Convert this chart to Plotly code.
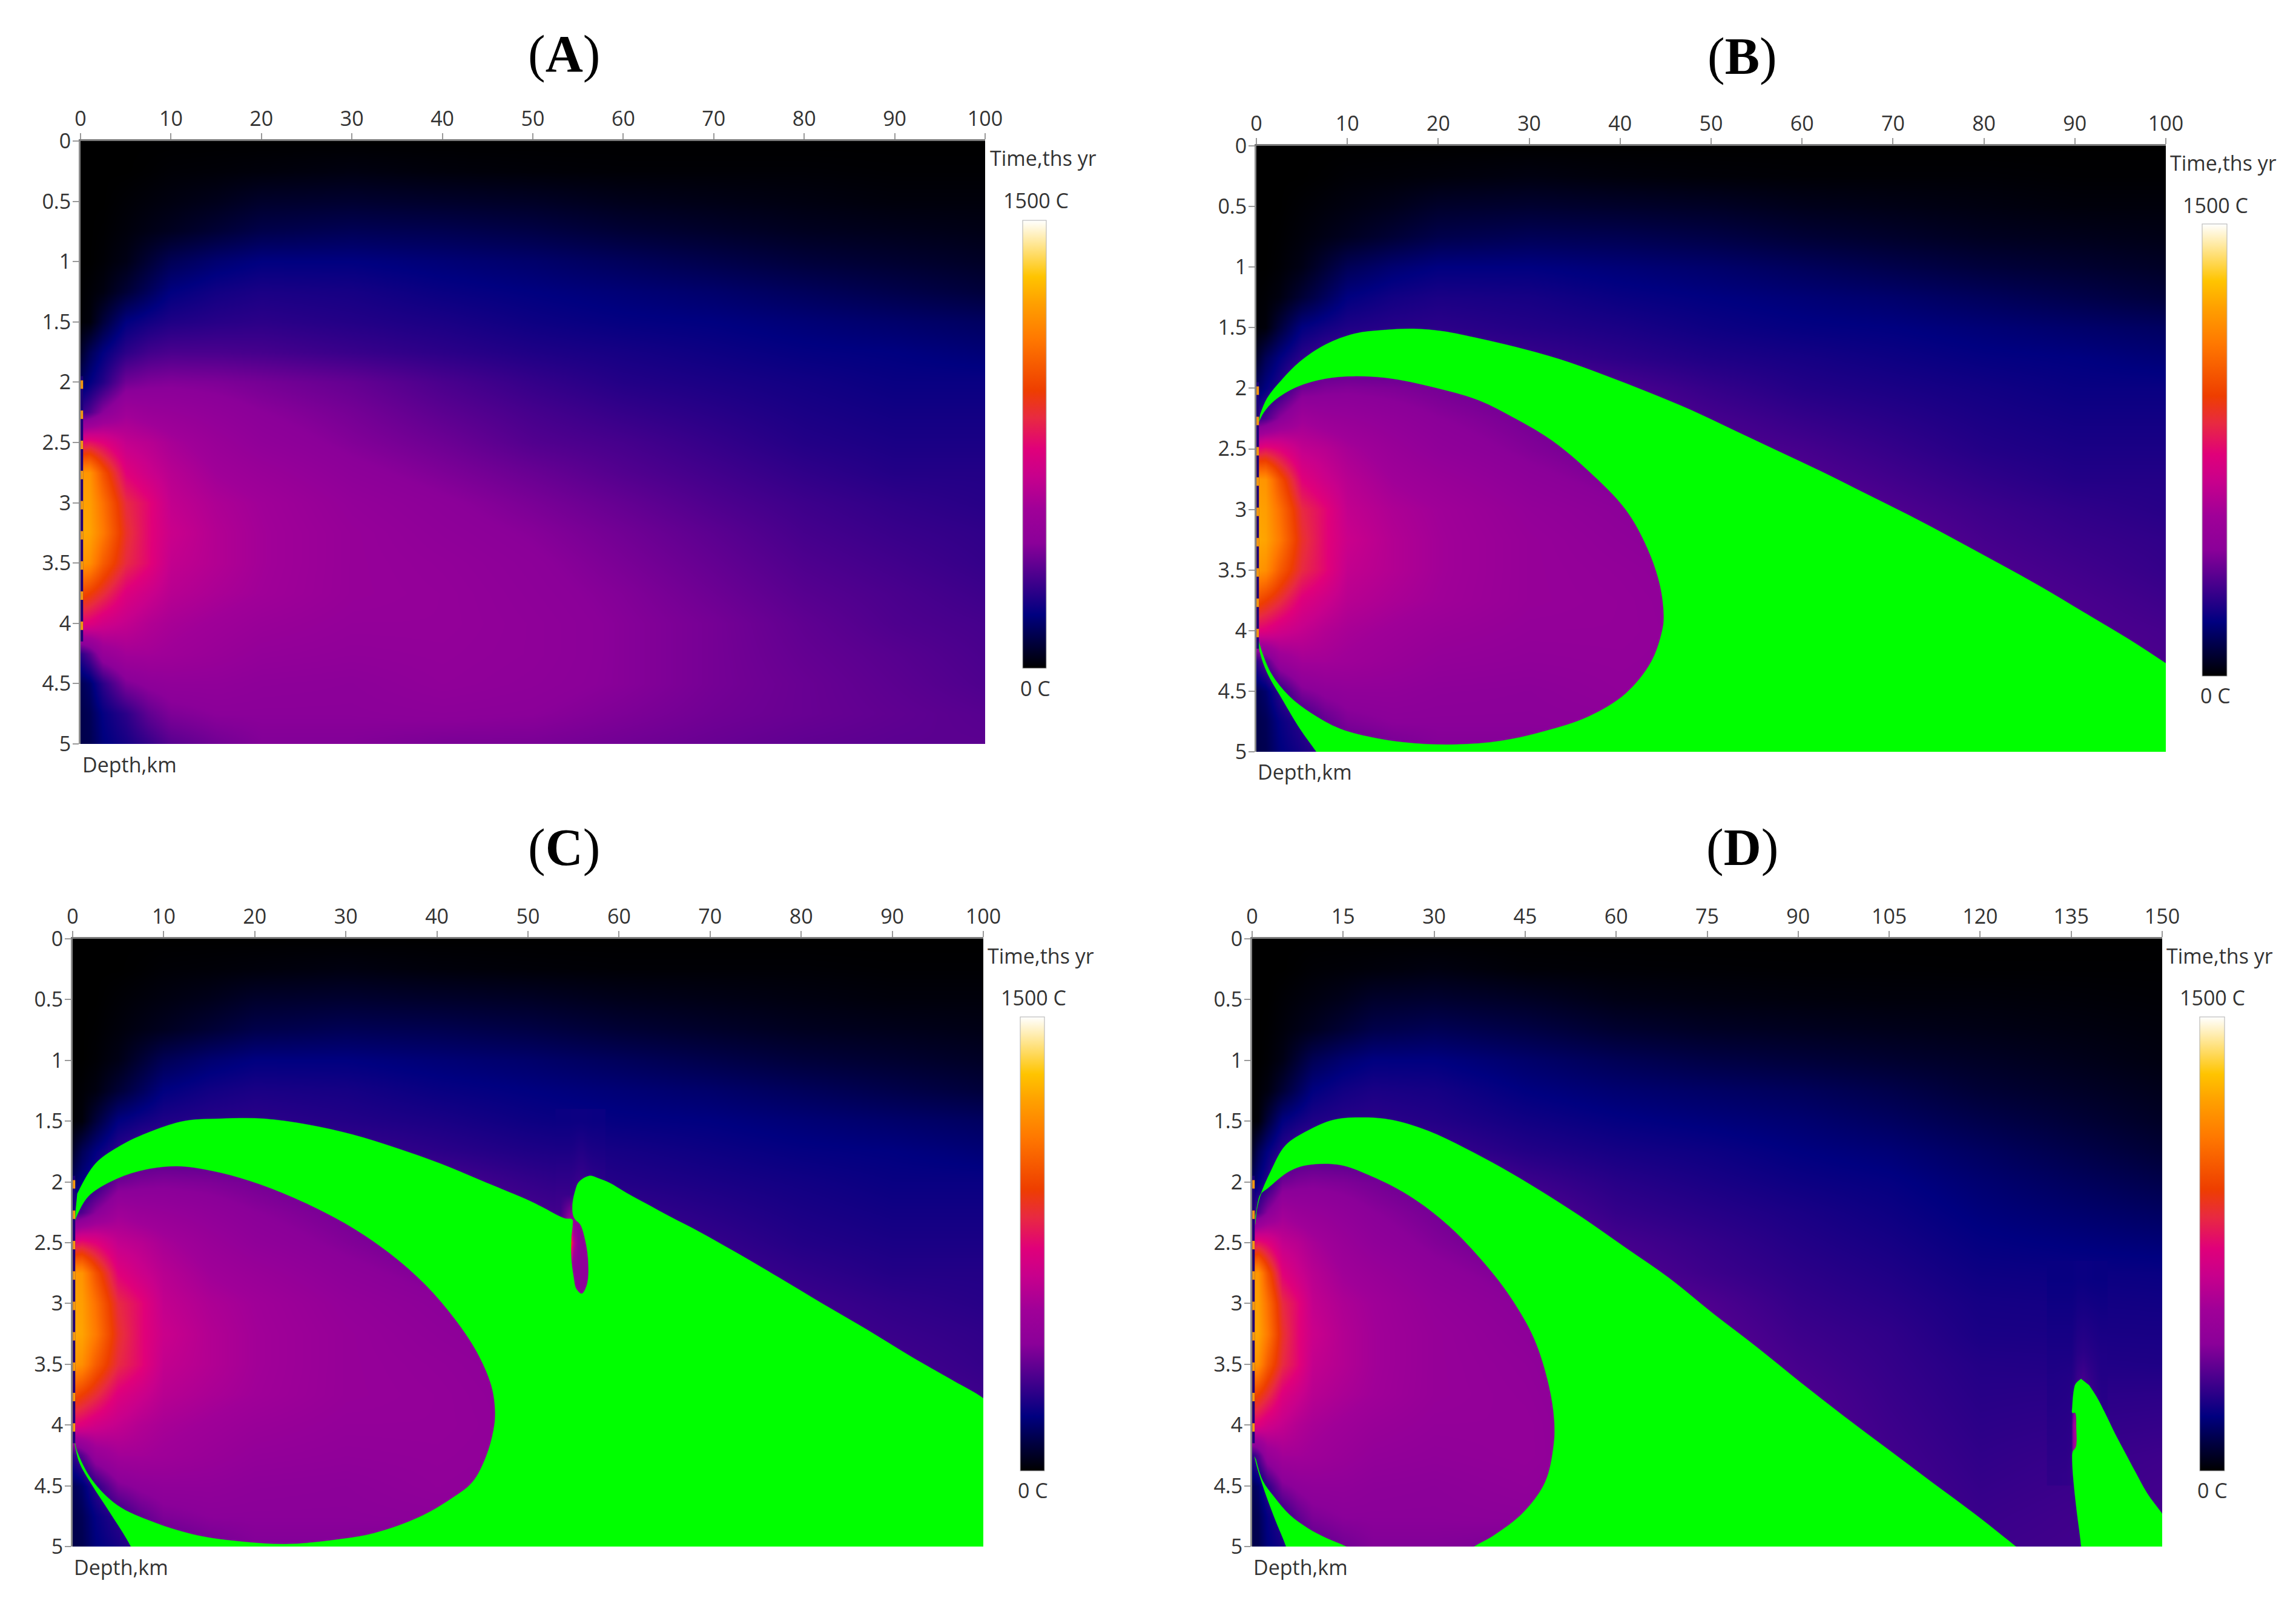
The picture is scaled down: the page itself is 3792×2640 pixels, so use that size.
import numpy as np
import plotly.graph_objects as go

W = 3792
H = 2640
PAGE = 8  # default body margin of the page

# depth axis and ticks
depth = [0, 0.25, 0.5, 0.75, 1, 1.25, 1.5, 1.75, 2, 2.25, 2.5, 2.75, 3, 3.25, 3.5, 3.75, 4, 4.25, 4.5, 4.75, 5]
depth_ticks = [0, 0.5, 1, 1.5, 2, 2.5, 3, 3.5, 4, 4.5, 5]
depth_labels = ["0", "0.5", "1", "1.5", "2", "2.5", "3", "3.5", "4", "4.5", "5"]
time_ticks_100 = [0, 10, 20, 30, 40, 50, 60, 70, 80, 90, 100]
time_ticks_150 = [0, 15, 30, 45, 60, 75, 90, 105, 120, 135, 150]

# temperature, in percent of the 1500 C scale (rows = depth)
time_100 = [0, 1, 2.5, 5, 7.5, 10, 15, 20, 30, 40, 50, 60, 70, 80, 90, 100]
temp_100 = [
    [0, 0, 0, 0, 0, 0, 0, 0, 0, 0, 0, 0, 0, 0, 0, 0],
    [0, 0, 0, 0, .2, .5, .7, 1, 1.5, 1, .7, .5, .5, .5, .3, .3],
    [0, 0, 0, .5, 1, 1.5, 2.5, 4, 4.5, 4, 3.5, 2.5, 2, 1.5, 1, 1],
    [0, 0, .2, 1, 2, 3, 5, 7, 8, 7.5, 6.5, 5, 4, 3, 2.5, 2],
    [0, 0, .5, 2, 5, 8, 10.5, 12, 12, 11, 10, 8.5, 7, 5.5, 4.5, 3.5],
    [.2, .5, 1.5, 5, 8.5, 12, 14, 15, 14.5, 13, 12, 11, 10, 8.5, 7, 5.5],
    [.5, 1, 5.5, 12, 14, 15.5, 16.5, 17, 16, 15, 13.5, 12.5, 12, 11, 10, 9],
    [4, 8, 12, 17, 19.5, 20.5, 20.5, 20, 18.5, 17, 15.5, 14.5, 13.5, 12.5, 12, 11],
    [9, 12, 16, 25, 26.5, 27, 26.5, 25.5, 23.5, 20.5, 18, 16, 15, 14, 13, 13],
    [18, 21, 28, 35, 33, 32, 30, 28, 25.5, 22.5, 20, 18, 16.5, 15, 14, 14],
    [50, 52, 49, 42, 40, 37, 33, 30, 27, 24.5, 21.5, 20, 18, 16, 15, 15],
    [80, 79, 66, 49, 44, 40, 35.5, 33, 29, 26.5, 24, 21.5, 19.5, 17.5, 16, 16],
    [82, 81, 72, 56, 50, 42, 38, 35.5, 31, 28.5, 26, 23.5, 21, 19, 17.5, 16.5],
    [83, 82, 74, 58, 50, 43.5, 39, 36, 32, 29.5, 27.5, 25, 22.5, 20, 18.5, 17.5],
    [80, 78, 68, 56, 50, 42, 39, 36, 32, 30.5, 28.5, 26, 23.5, 21, 19.5, 18],
    [65, 62, 57, 48, 44, 40, 37.5, 35.5, 32, 31, 29, 27, 24.5, 22, 20.5, 19],
    [49, 48, 45, 42, 39, 37, 35, 33, 31, 31, 29.5, 27.5, 25.5, 23, 21, 20],
    [17, 22, 32, 36, 36, 35, 33, 31, 30, 30.5, 29.5, 27.5, 25.5, 23.5, 22, 20.5],
    [8, 10, 17, 26.5, 29, 30, 30, 29, 28.5, 30, 29, 27.5, 25.5, 24, 22.5, 21],
    [7, 8, 12.5, 17, 23, 26.5, 28, 28, 28, 28.5, 28, 26.5, 25, 24, 23, 22],
    [7, 7.5, 11.5, 14.5, 18, 22, 25, 27, 27, 26, 26, 25, 24, 23, 22.5, 22.5],
]

time_150 = [0, 1, 2.5, 5, 7.5, 10, 15, 20, 30, 45, 60, 75, 90, 105, 120, 150]
temp_150 = [
    [0, 0, 0, 0, 0, 0, 0, 0, 0, 0, 0, 0, 0, 0, 0, 0],
    [0, 0, 0, 0, .2, .5, .7, 1, 1.5, .7, .5, .4, .3, .3, .2, .2],
    [0, 0, 0, .5, 1, 1.5, 2.5, 4, 4.5, 3.5, 2, 1.5, 1.2, 1, 1, .5],
    [0, 0, .2, 1, 2, 3, 5, 7, 8, 6.5, 4.5, 3.5, 3, 2.5, 2, 1],
    [0, 0, .5, 2, 5, 8, 10.5, 12, 12, 10, 8, 6.5, 5.5, 4.5, 3.5, 1.5],
    [.2, .5, 1.5, 5, 8.5, 12, 14, 15, 14.5, 12, 10.5, 9.5, 8.5, 7, 5, 2.5],
    [.5, 1, 5.5, 12, 14, 15.5, 16.5, 17, 16, 14, 12.5, 11.5, 10.5, 9, 7, 3.5],
    [4, 8, 12, 17, 19.5, 20.5, 20.5, 20, 18.5, 16, 14.5, 13.5, 12, 11, 9, 5],
    [9, 12, 16, 25, 26.5, 27, 26.5, 25.5, 23.5, 19, 16.5, 15, 13.5, 12.5, 10.5, 7],
    [18, 21, 28, 35, 33, 32, 30, 28, 25.5, 21.5, 18, 16.5, 15, 13.5, 11.5, 9],
    [50, 52, 49, 42, 40, 37, 33, 30, 27, 24, 20, 18, 16, 14.5, 12.5, 11],
    [80, 79, 66, 49, 44, 40, 35.5, 33, 29, 26, 21.5, 19, 17, 15.5, 13.5, 13],
    [82, 81, 72, 56, 50, 42, 38, 35.5, 31, 28, 23.5, 21, 18, 16.5, 14.5, 14],
    [83, 82, 74, 58, 50, 43.5, 39, 36, 32, 29, 25, 22, 19, 17.5, 15, 14.8],
    [80, 78, 68, 56, 50, 42, 39, 36, 32, 30, 26, 23, 20, 18, 16, 15.5],
    [65, 62, 57, 48, 44, 40, 37.5, 35.5, 32, 30.5, 27, 24, 21, 18.5, 16.5, 17],
    [49, 48, 45, 42, 39, 37, 35, 33, 31, 31, 27.5, 25, 21.5, 19, 17, 18],
    [17, 22, 32, 36, 36, 35, 33, 31, 30, 31, 28, 25, 22, 19.5, 17.5, 19],
    [8, 10, 17, 26.5, 29, 30, 30, 29, 28.5, 30, 28, 25.5, 22.5, 20, 18, 19.5],
    [7, 8, 12.5, 17, 23, 26.5, 28, 28, 28, 28.5, 27.5, 25.5, 23, 20.5, 18.5, 20],
    [7, 7.5, 11.5, 14.5, 18, 22, 25, 27, 27, 26, 26, 25, 23, 21, 19, 20],
]

# small hot spots under the second melt zone
spot_c_time = [53.5, 54.5, 55, 55.5, 56, 56.5, 57, 58]
spot_c_depth = [1.5, 1.7, 1.9, 2.1, 2.3, 2.5, 2.7, 2.9, 3.1]
spot_c_temp = [
    [13.3, 13.3, 13.4, 13.4, 13.4, 13.3, 13.2, 13.2],
    [14.8, 14.8, 15, 15.5, 15.5, 15, 14.8, 14.6],
    [16.7, 16.7, 17, 17.5, 17.5, 17, 16.5, 16.2],
    [18.5, 18.5, 19, 20, 20, 19, 18, 17.5],
    [20, 30, 30, 29, 29, 26, 20, 19],
    [21, 75, 42, 30, 29, 29, 23, 20],
    [23, 32, 30, 29, 29, 29, 24, 22],
    [25, 28, 29, 29, 29, 28, 26, 24],
    [27, 27, 28, 28, 28, 28, 27, 26],
]
spot_d_time = [132, 134, 135, 135.5, 136, 137, 138, 140]
spot_d_depth = [2.8, 3.1, 3.4, 3.6, 3.8, 4.0, 4.2, 4.4]
spot_d_temp = [
    [12.9, 12.9, 12.9, 13, 13.2, 13.2, 13, 12.9],
    [14, 14, 14, 14.3, 14.8, 15, 14.8, 14.3],
    [15, 15, 15, 15.8, 16.5, 17, 16.5, 15.5],
    [15.6, 15.8, 16, 17, 18.5, 19.5, 18, 16],
    [16, 16.2, 16.5, 18, 20, 21, 19.5, 16.5],
    [16.5, 16.7, 17, 36, 36, 30, 25, 17],
    [16.9, 17, 17.5, 36, 36, 28, 22, 18],
    [17.4, 17.5, 18, 19, 20, 22, 20, 18],
]

# green melt zone outlines (they run past the frame where the zone is cut by it)
green_b_x = [.4, 1.2, 2.8, 4.8, 7.6, 10.8, 14, 17.3, 20.5, 24.5, 28.5, 33.3, 38.2, 43, 47.8, 52.6, 57.4, 62.2, 67, 71.8, 76.6, 81.5, 86.3, 91, 95.9, 100, 106,
             106, 10, 8.4, 6.6, 4.8, 2.8, 1.2, .4, .2,
             .3, 1.6, 3.6, 6, 9.2, 13.3, 17.3, 22, 26.9, 31.7, 36.5, 40.6, 43.4, 44.6, 44.8, 44.4, 43, 40.6, 36.5, 32.5, 28.5, 24.5, 20.5, 14.9, 10.8, 7.6, 4.4, 2, .8, .2]
green_b_y = [2.22, 2.08, 1.93, 1.78, 1.64, 1.55, 1.52, 1.51, 1.53, 1.59, 1.66, 1.76, 1.89, 2.03, 2.18, 2.35, 2.52, 2.69, 2.87, 3.05, 3.24, 3.44, 3.64, 3.85, 4.07, 4.27, 4.57,
             5.6, 5.6, 5.2, 5, 4.81, 4.56, 4.35, 4.18, 4.05,
             4.1, 4.35, 4.54, 4.68, 4.81, 4.89, 4.93, 4.94, 4.91, 4.83, 4.71, 4.52, 4.26, 4.01, 3.89, 3.63, 3.32, 3, 2.68, 2.43, 2.25, 2.1, 2.01, 1.92, 1.9, 1.92, 1.99, 2.1, 2.2, 2.29]

green_c_x = [.5, 2.5, 5.3, 8.1, 12.2, 16.2, 21, 25.9, 30.7, 35.5, 40.4, 45.2, 50, 51.5, 54, 54.86,
             54.9, 54.75, 54.75, 55, 55.3, 55.9, 56.5, 56.6, 56.2, 55.75, 55.2,
             54.95, 54.9, 55.2, 55.6, 56.8, 57.7, 59, 60.8, 63, 65.7, 68.8, 72.6, 77.4, 82.3, 87.1, 91.9, 96.8, 100, 106,
             106, 8, 7.5, 6.4, 4.1, 2.1, .7, .2,
             .5, 2.1, 4.9, 8.9, 13.8, 18.6, 23.4, 28.3, 33.1, 38, 41.5, 43.9, 45.4, 46.2, 46.4, 46, 44.4, 42, 38.8, 34.7, 29.9, 24.3, 19.4, 15.4, 11.4, 7.3, 4.1, 1.7, .5, .2]
green_c_y = [2.1, 1.85, 1.7, 1.6, 1.5, 1.48, 1.48, 1.53, 1.61, 1.72, 1.85, 2, 2.15, 2.205, 2.3, 2.31,
             2.35, 2.46, 2.63, 2.78, 2.88, 2.92, 2.84, 2.63, 2.45, 2.35, 2.31,
             2.27, 2.18, 2.07, 2, 1.95, 1.97, 2.01, 2.09, 2.18, 2.29, 2.41, 2.57, 2.78, 3, 3.21, 3.43, 3.64, 3.78, 4.15,
             5.6, 5.6, 5.2, 5, 4.72, 4.49, 4.3, 4.13,
             4.22, 4.45, 4.66, 4.8, 4.91, 4.96, 4.98, 4.95, 4.89, 4.76, 4.61, 4.47, 4.26, 4.05, 3.9, 3.68, 3.4, 3.13, 2.85, 2.58, 2.34, 2.13, 1.99, 1.91, 1.87, 1.91, 2, 2.12, 2.27, 2.33]

green_d_x = [.5, 1.3, 3.1, 5.5, 9.1, 13.4, 18.2, 23, 29, 35, 41, 47.1, 54.3, 61.5, 68.7, 75.9, 83.2, 90.4, 97.6, 104.8, 112, 119.3, 125.9, 128.5,
             127, 32, 33, 36.6, 39.8, 44.7, 48.3, 49.7, 49.8, 48.9, 46.5, 42.9, 39, 32.4, 25.8, 19.1, 14.5, 9.2, 6.2, 2.6, 1.4, .9, .5]
green_d_y = [2.29, 2.12, 1.91, 1.7, 1.58, 1.49, 1.47, 1.49, 1.58, 1.72, 1.88, 2.06, 2.29, 2.54, 2.79, 3.08, 3.36, 3.65, 3.93, 4.2, 4.47, 4.74, 5, 5.1,
             5.6, 5.6, 5.12, 5, 4.91, 4.72, 4.47, 4.17, 3.96, 3.67, 3.29, 2.97, 2.71, 2.36, 2.11, 1.94, 1.86, 1.86, 1.91, 2.05, 2.1, 2.18, 2.35]
green_d2_x = [.4, .9, 2.25, 3.9, 5.6, 7, 8, 20, 19, 15.5, 12.2, 9.2, 6.2, 3.6, 1.75, .6]
green_d2_y = [4.26, 4.36, 4.57, 4.79, 5, 5.25, 5.6, 5.6, 5.1, 5, 4.93, 4.85, 4.74, 4.59, 4.46, 4.28]
green_d3_x = [136.65, 135.76, 135.43, 135.2, 135.2, 135.66, 135.86, 135.8, 135.27, 135.2, 135.43, 135.93, 136.65, 136.8,
              137, 154, 154, 150, 147.5, 145.5, 143.9, 142.2, 140.55, 139.2, 137.9]
green_d3_y = [3.62, 3.66, 3.72, 3.85, 3.9, 3.9, 4.02, 4.18, 4.22, 4.31, 4.48, 4.71, 5, 5.2,
              5.6, 5.6, 5, 4.73, 4.56, 4.38, 4.23, 4.07, 3.9, 3.77, 3.67]

# dashed hot line on the surface edge
strip_depth = [1.95, 4.15]
dash_depth = [2.02, 2.27, 2.52, 2.77, 3.02, 3.27, 3.52, 3.77, 4.02]

colors = [
    [0, "#000000"], [.12, "#000080"], [.28, "#8b0099"], [.355, "#a00098"], [.43, "#c8008c"],
    [.49, "#e0007a"], [.56, "#e82a40"], [.62, "#ee3e00"], [.735, "#ff7800"], [.815, "#ffa000"],
    [.874, "#ffc400"], [1, "#ffffff"],
]

TXT = "#333333"
FONT = "Open Sans"
TICK = 34

panels = [
    dict(name="A", box=(133, 1627, 233, 1229), bar=(1689, 1728, 364, 1104), tmax=100,
         ticks=time_ticks_100, t=time_100, z=temp_100, green=[], spot=None,
         title=(931, 89), time=(1633, 261), top=(1711, 331), low=(1710, 1137), dep=(134, 1263)),
    dict(name="B", box=(2075, 3577, 241, 1242), bar=(3637, 3678, 370, 1117), tmax=100,
         ticks=time_ticks_100, t=time_100, z=temp_100, green=[(green_b_x, green_b_y)], spot=None,
         title=(2877, 93), time=(3582, 269), top=(3659, 339), low=(3659, 1149), dep=(2075, 1275)),
    dict(name="C", box=(120, 1624, 1551, 2555), bar=(1685, 1725, 1680, 2430), tmax=100,
         ticks=time_ticks_100, t=time_100, z=temp_100, green=[(green_c_x, green_c_y)],
         spot=(spot_c_time, spot_c_depth, spot_c_temp),
         title=(931, 1400), time=(1629, 1579), top=(1707, 1648), low=(1706, 2462), dep=(120, 2589)),
    dict(name="D", box=(2068, 3571, 1551, 2555), bar=(3633, 3674, 1680, 2430), tmax=150,
         ticks=time_ticks_150, t=time_150, z=temp_150,
         green=[(green_d_x, green_d_y), (green_d2_x, green_d2_y), (green_d3_x, green_d3_y)],
         spot=(spot_d_time, spot_d_depth, spot_d_temp),
         title=(2877, 1400), time=(3576, 1579), top=(3654, 1648), low=(3654, 2462), dep=(2068, 2589)),
]

fig_w = W - 2 * PAGE
fig_h = H - 2 * PAGE


def fx(px):
    return (px - PAGE) / fig_w


def fy(py):
    return 1 - (py - PAGE) / fig_h


fig = go.Figure()
layout = {}
notes = []


def note(text, pos, size, anchor="center", family=FONT):
    notes.append(dict(text=text, x=fx(pos[0]), y=fy(pos[1]), xref="paper", yref="paper",
                      xanchor=anchor, yanchor="middle", showarrow=False,
                      font=dict(family=family, size=size, color=TXT if family == FONT else "#000000")))


for i, p in enumerate(panels):
    n = "" if i == 0 else str(i + 1)
    xa, ya = "x" + n, "y" + n
    left, right, top, bottom = p["box"]
    bl, br, bt, bb = p["bar"]

    fig.add_trace(go.Heatmap(
        x=p["t"], y=depth, z=np.array(p["z"]) * 15, xaxis=xa, yaxis=ya,
        zmin=0, zmax=1500, colorscale=colors, zsmooth="best", hoverinfo="skip",
        colorbar=dict(x=fx(bl), xanchor="left", y=fy(bb), yanchor="bottom",
                      len=(bb - bt) / fig_h, lenmode="fraction", thickness=br - bl, thicknessmode="pixels",
                      xpad=0, ypad=0, ticks="", showticklabels=False, tickvals=[],
                      outlinewidth=1, outlinecolor="#b0b0b0"),
    ))
    if p["spot"]:
        sx, sy, sz = p["spot"]
        fig.add_trace(go.Heatmap(x=sx, y=sy, z=np.array(sz) * 15, xaxis=xa, yaxis=ya, zmin=0, zmax=1500,
                                 colorscale=colors, zsmooth="best", showscale=False, hoverinfo="skip"))
    for gx, gy in p["green"]:
        fig.add_trace(go.Scatter(x=gx, y=gy, xaxis=xa, yaxis=ya, mode="lines", fill="toself",
                                 fillcolor="#00ff00", line=dict(color="#00ff00", width=0.5, shape="spline", smoothing=1),
                                 hoverinfo="skip", showlegend=False))

    edge = 0.15 * p["tmax"] / 100
    fig.add_trace(go.Scatter(x=[edge] * len(strip_depth), y=strip_depth, xaxis=xa, yaxis=ya, mode="lines",
                             line=dict(color="#1c0078", width=4), hoverinfo="skip", showlegend=False))
    fig.add_trace(go.Scatter(x=[edge] * len(dash_depth), y=dash_depth, xaxis=xa, yaxis=ya, mode="markers",
                             marker=dict(symbol="line-ns", size=10, line=dict(color="#f59a10", width=4)),
                             hoverinfo="skip", showlegend=False))

    layout["xaxis" + n] = dict(
        domain=[fx(left), fx(right)], anchor=ya, side="top", range=[0, p["tmax"]],
        tickvals=p["ticks"], ticktext=[str(v) for v in p["ticks"]], ticks="outside", ticklen=10, tickwidth=2,
        tickcolor="#9a9a9a", showgrid=False, zeroline=False, showline=True, linecolor="#7a7a7a", linewidth=3,
        tickfont=dict(family=FONT, size=TICK, color=TXT), tickangle=0, ticklabelstandoff=-2,
    )
    layout["yaxis" + n] = dict(
        domain=[fy(bottom), fy(top)], anchor=xa, range=[5, 0],
        tickvals=depth_ticks, ticktext=depth_labels, ticks="outside", ticklen=10, tickwidth=2,
        tickcolor="#9a9a9a", showgrid=False, zeroline=False, showline=True, linecolor="#8a8a8a", linewidth=3,
        tickfont=dict(family=FONT, size=TICK, color=TXT), ticklabelstandoff=-4,
    )

    note("(<b>%s</b>)" % p["name"], p["title"], 86, family="Liberation Serif")
    note("Time,ths yr", p["time"], TICK, anchor="left")
    note("1500 C", p["top"], TICK)
    note("0 C", p["low"], TICK)
    note("Depth,km", p["dep"], TICK, anchor="left")

fig.update_layout(width=fig_w, height=fig_h, margin=dict(l=0, r=0, t=0, b=0, autoexpand=False), plot_bgcolor="white",
                  paper_bgcolor="white", showlegend=False, annotations=notes, **layout)

fig.write_html("out.html")
